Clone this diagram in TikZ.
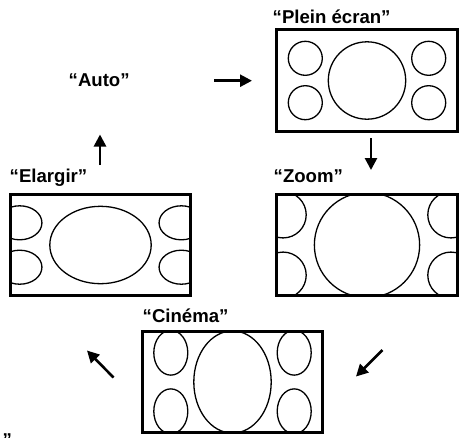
\documentclass[tikz,border=0pt]{standalone}
\usepackage{fontspec}
\setmainfont{Liberation Sans}
\usetikzlibrary{arrows.meta}
\newcommand{\screenshapes}{%
  \draw[shape line] (0,0) circle[radius=38.7];
  \foreach \sx in {-1,1}{\foreach \sy in {-1,1}{%
    \draw[shape line] (\sx*61.7,\sy*22.2) circle[radius=17];}}%
}
\tikzset{
  screen/.style={minimum width=180pt, minimum height=101pt, inner sep=0pt},
  shape line/.style={line width=1.3pt},
  lbl/.style={inner sep=0pt, anchor=base west, font=\fontsize{18.6}{20}\selectfont\bfseries},
  flow/.style={line width=2.6pt, -{Triangle[length=12pt,width=12pt]}}
}
\begin{document}
\begin{tikzpicture}[x=1pt,y=1pt]
\useasboundingbox (0,0) rectangle (465,-437);
% screens (nodes for names, borders drawn later)
\node[screen] (plein) at (367,-80.5) {};
\node[screen] (zoom) at (367,-245) {};
\node[screen] (elargir) at (100.5,-245) {};
\node[screen] (cinema) at (232.5,-382) {};
% contents
\begin{scope}
  \clip (plein.south west) rectangle (plein.north east);
  \begin{scope}[shift={(plein.center)}] \screenshapes \end{scope}
\end{scope}
\begin{scope}
  \clip (zoom.south west) rectangle (zoom.north east);
  \begin{scope}[shift={(zoom.center)}, scale=1.36] \screenshapes \end{scope}
\end{scope}
\begin{scope}
  \clip (elargir.south west) rectangle (elargir.north east);
  \begin{scope}[shift={(elargir.center)}, xscale=1.31] \screenshapes \end{scope}
\end{scope}
\begin{scope}
  \clip (cinema.south west) rectangle (cinema.north east);
  \begin{scope}[shift={(cinema.center)}, yscale=1.32] \screenshapes \end{scope}
\end{scope}
% borders
\foreach \n in {plein,zoom,elargir,cinema}{
  \draw[line width=3pt] (\n.south west) rectangle (\n.north east);
}
% labels
\node[lbl] (lplein) at (272.5,-23) {“Plein écran”};
\node[lbl] (lauto) at (68.5,-86) {“Auto”};
\node[lbl] (lelargir) at (9.5,-182) {“Elargir”};
\node[lbl] (lzoom) at (273.5,-182) {“Zoom”};
\node[lbl] (lcinema) at (142.5,-322) {“Cinéma”};
\node[lbl] (lpart) at (2.5,-446.5) {”};
% arrows
\coordinate (a1s) at (214,-80.7); \coordinate (a1e) at (252,-80.7);
\coordinate (a2s) at (371,-138); \coordinate (a2e) at (371,-170);
\coordinate (a3s) at (382.5,-350); \coordinate (a3e) at (356,-376.5);
\coordinate (a4s) at (113.5,-377.5); \coordinate (a4e) at (87,-350.5);
\coordinate (a5s) at (100,-165); \coordinate (a5e) at (100,-134.5);
\draw[flow] (a1s) -- (a1e);
\draw[flow] (a2s) -- (a2e);
\draw[flow] (a3s) -- (a3e);
\draw[flow] (a4s) -- (a4e);
\draw[flow] (a5s) -- (a5e);
\end{tikzpicture}
\end{document}
